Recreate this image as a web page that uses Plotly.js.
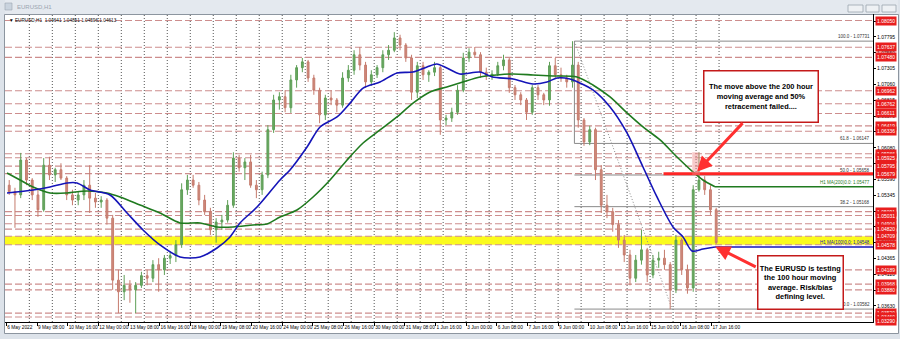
<!DOCTYPE html>
<html><head><meta charset="utf-8">
<script src="https://cdn.plot.ly/plotly-3.0.1.min.js"></script>
<style>html,body{margin:0;padding:0;background:#fff;}#chart{width:900px;height:339px;}</style>
</head><body><div id="chart"></div>
<script>
// ===== DATA =====
// EURUSD H1, aggregated into 6-hour candles; hour index counts trading hours from 6 May 2022 00:00
const candleHours = 6;
const candleOpen = [
1.0550,1.0540,1.0535,1.0589,1.0558,1.0535,1.0512,1.0581,1.0566,1.0574,
1.0561,1.0535,1.0527,1.0535,1.0550,1.0530,1.0524,1.0527,1.0499,1.0403,
1.0385,1.0395,1.0388,1.0395,1.0410,1.0406,1.0427,1.0419,1.0437,1.0441,
1.0458,1.0543,1.0558,1.0550,1.0527,1.0509,1.0481,1.0493,1.0496,1.0519,
1.0592,1.0577,1.0586,1.0550,1.0543,1.0566,1.0636,1.0682,1.0687,1.0670,
1.0713,1.0732,1.0741,1.0716,1.0697,1.0659,1.0685,1.0682,1.0674,1.0716,
1.0728,1.0752,1.0736,1.0710,1.0721,1.0732,1.0752,1.0759,1.0778,1.0767,
1.0747,1.0694,1.0735,1.0721,1.0725,1.0732,1.0651,1.0654,1.0663,1.0697,
1.0747,1.0756,1.0752,1.0725,1.0719,1.0722,1.0735,1.0744,1.0701,1.0690,
1.0682,1.0663,1.0701,1.0690,1.0682,1.0735,1.0721,1.0716,1.0710,1.0736,
1.0651,1.0617,1.0636,1.0574,1.0519,1.0509,1.0489,1.0465,1.0442,1.0406,
1.0434,1.0450,1.0411,1.0434,1.0437,1.0427,1.0388,1.0465,1.0419,1.0391,
1.0543,1.0558,1.0543,1.0512];
const candleHigh = [
1.0558,1.0546,1.0600,1.0592,1.0561,1.0543,1.0592,1.0594,1.0577,1.0584,
1.0564,1.0543,1.0540,1.0558,1.0581,1.0538,1.0533,1.0530,1.0504,1.0419,
1.0411,1.0403,1.0400,1.0416,1.0419,1.0434,1.0437,1.0442,1.0447,1.0465,
1.0553,1.0566,1.0566,1.0555,1.0535,1.0515,1.0499,1.0504,1.0527,1.0601,
1.0597,1.0592,1.0597,1.0558,1.0571,1.0643,1.0690,1.0694,1.0697,1.0721,
1.0736,1.0747,1.0744,1.0721,1.0701,1.0690,1.0697,1.0685,1.0725,1.0736,
1.0759,1.0764,1.0741,1.0728,1.0736,1.0759,1.0767,1.0787,1.0783,1.0770,
1.0752,1.0741,1.0741,1.0728,1.0741,1.0735,1.0659,1.0670,1.0705,1.0755,
1.0762,1.0764,1.0756,1.0732,1.0728,1.0741,1.0752,1.0747,1.0705,1.0694,
1.0685,1.0705,1.0705,1.0693,1.0741,1.0747,1.0732,1.0721,1.0773,1.0741,
1.0654,1.0642,1.0639,1.0581,1.0535,1.0515,1.0496,1.0473,1.0450,1.0442,
1.0481,1.0453,1.0442,1.0447,1.0450,1.0431,1.0473,1.0468,1.0427,1.0550,
1.0601,1.0564,1.0550,1.0515];
const candleLow = [
1.0535,1.0484,1.0530,1.0550,1.0527,1.0501,1.0509,1.0558,1.0555,1.0558,
1.0527,1.0519,1.0519,1.0527,1.0507,1.0515,1.0515,1.0489,1.0388,1.0352,
1.0372,1.0368,1.0352,1.0391,1.0395,1.0400,1.0385,1.0411,1.0428,1.0431,
1.0453,1.0535,1.0546,1.0519,1.0504,1.0473,1.0461,1.0481,1.0492,1.0515,
1.0571,1.0558,1.0546,1.0530,1.0535,1.0561,1.0631,1.0667,1.0663,1.0662,
1.0701,1.0725,1.0710,1.0690,1.0646,1.0651,1.0674,1.0663,1.0670,1.0710,
1.0721,1.0728,1.0701,1.0704,1.0716,1.0725,1.0744,1.0756,1.0759,1.0741,
1.0682,1.0685,1.0713,1.0710,1.0719,1.0628,1.0643,1.0648,1.0659,1.0694,
1.0741,1.0747,1.0716,1.0713,1.0713,1.0719,1.0728,1.0693,1.0682,1.0674,
1.0651,1.0659,1.0682,1.0674,1.0673,1.0716,1.0710,1.0701,1.0701,1.0639,
1.0611,1.0612,1.0558,1.0507,1.0499,1.0478,1.0453,1.0431,1.0395,1.0400,
1.0427,1.0400,1.0406,1.0422,1.0419,1.0358,1.0383,1.0411,1.0382,1.0385,
1.0540,1.0535,1.0504,1.0459];
const candleClose = [
1.0540,1.0535,1.0589,1.0558,1.0535,1.0512,1.0581,1.0566,1.0574,1.0561,
1.0535,1.0527,1.0535,1.0550,1.0530,1.0524,1.0527,1.0499,1.0403,1.0385,
1.0395,1.0388,1.0395,1.0410,1.0406,1.0427,1.0419,1.0437,1.0441,1.0458,
1.0543,1.0558,1.0550,1.0527,1.0509,1.0481,1.0493,1.0496,1.0519,1.0592,
1.0577,1.0586,1.0550,1.0543,1.0566,1.0636,1.0682,1.0687,1.0670,1.0713,
1.0732,1.0741,1.0716,1.0697,1.0659,1.0685,1.0682,1.0674,1.0716,1.0728,
1.0752,1.0736,1.0710,1.0721,1.0732,1.0752,1.0759,1.0778,1.0767,1.0747,
1.0694,1.0735,1.0721,1.0725,1.0732,1.0651,1.0654,1.0663,1.0697,1.0747,
1.0756,1.0752,1.0725,1.0719,1.0722,1.0735,1.0744,1.0701,1.0690,1.0682,
1.0663,1.0701,1.0690,1.0682,1.0735,1.0721,1.0716,1.0710,1.0736,1.0651,
1.0617,1.0636,1.0574,1.0519,1.0509,1.0489,1.0465,1.0442,1.0406,1.0434,
1.0450,1.0411,1.0434,1.0437,1.0427,1.0388,1.0465,1.0419,1.0391,1.0543,
1.0558,1.0543,1.0512,1.0461];

// 100-hour moving average (blue) and 200-hour moving average (green)
const ma100Hours = [0.7,27.9,45.6,63.4,73.8,87.4,108.2,126.0,142.7,160.4,181.3,202.2,219.9,233.5,243.9,261.7,285.7,296.1,313.9,327.5,345.2,358.8,372.4,390.1,407.8,424.5,439.1,449.4,459.8,473.4,494.5,507.4,528.9,549.8,564.4,574.8,588.4,598.7,612.3,630.2,647.9,664.6,679.2,695.9,706.4,715.8,727.2,739.7];
const ma100Values = [1.05380,1.05426,1.05473,1.05535,1.05535,1.05426,1.05349,1.05070,1.04807,1.04575,1.04389,1.04389,1.04528,1.04699,1.04916,1.05163,1.05581,1.05736,1.06092,1.06402,1.06557,1.06771,1.07004,1.07098,1.07238,1.07253,1.07331,1.07377,1.07315,1.07222,1.07253,1.07176,1.07145,1.07067,1.07098,1.07160,1.07145,1.07083,1.06975,1.06711,1.06309,1.05782,1.05318,1.04854,1.04699,1.04482,1.04513,1.04544];
const ma200Hours = [0.7,14.3,27.9,45.6,63.4,84.2,105.1,118.7,139.6,160.4,181.3,202.2,219.9,236.7,257.5,272.1,285.7,303.4,320.2,337.9,355.7,372.4,390.1,407.8,424.5,442.3,459.8,476.5,494.5,512.2,528.9,549.8,570.6,595.7,612.3,630.2,647.9,664.6,682.4,700.1,716.8,727.2,739.7];
const ma200Values = [1.05690,1.05581,1.05473,1.05380,1.05380,1.05411,1.05380,1.05318,1.05194,1.05070,1.04916,1.04916,1.04854,1.04854,1.04885,1.04900,1.05008,1.05117,1.05318,1.05581,1.05891,1.06154,1.06355,1.06557,1.06771,1.06944,1.07021,1.07098,1.07176,1.07207,1.07222,1.07207,1.07191,1.07176,1.07052,1.06866,1.06619,1.06402,1.06201,1.05937,1.05705,1.05581,1.05477];
const ma100Label = 'H1 MA(100)0.0: 1.04548';
const ma200Label = 'H1 MA(200)0.0: 1.05477';

// time axis
const timeTickHours = [0,32,64,96,128,160,192,224,256,288,320,352,384,416,448,480,512,544,576,608,640,672,704,736];
const timeTickLabels = ['6 May 2022','9 May 08:00','10 May 16:00','12 May 00:00','13 May 08:00','16 May 16:00','18 May 00:00','19 May 08:00','20 May 16:00','24 May 00:00','25 May 08:00','26 May 16:00','30 May 00:00','31 May 08:00','1 Jun 16:00','3 Jun 00:00','6 Jun 08:00','7 Jun 16:00','9 Jun 00:00','10 Jun 08:00','13 Jun 16:00','15 Jun 00:00','16 Jun 08:00','17 Jun 16:00'];
const tradingDays = 31; // 6 May .. 17 Jun (period separators at each day start)

// price axis
const priceTicks = [1.03630,1.03875,1.04120,1.04365,1.04610,1.04855,1.05100,1.05345,1.05590,1.05835,1.06080,1.06325,1.06570,1.06815,1.07060,1.07305,1.07550,1.07795,1.08040];

// horizontal support/resistance levels (red dashed, red labels)
const levelPrices = [1.08050,1.07637,1.07480,1.06962,1.06762,1.06611,1.06419,1.06336,1.05986,1.05925,1.05795,1.05679,1.05091,1.05031,1.04904,1.04820,1.04709,1.04578,1.04189,1.03968,1.03880,1.03520,1.03460,1.03290];
const supportZone = [1.04578, 1.04709];
const retestLevel = 1.05679;
const retestStartHour = 686;

// Fibonacci retracement (9 Jun high -> 15 Jun low)
const fibRatios = ['100.0','61.8','50.0','38.2','0.0'];
const fibPrices = [1.07731,1.06147,1.05658,1.05168,1.03582];
const fibHighHour = 593;
const fibLowHour = 695;

// failed break area
const failHours = [716, 724];
const failPrices = [1.0566, 1.0601];
const arrow1Target = [721, 1.0571];
const arrow2Target = [740, 1.0455];

const headerText = '\u25BC EURUSD,H1  1.04641 1.04861 1.04596 1.04613';
const note1 = '<b>The move above the 200 hour<br>moving average and 50%<br>retracement failed....</b>';
const note2 = '<b>The EURUSD is testing<br>the 100 hour moving<br>average. Risk/bias<br>defining level.</b>';

// ===== LAYOUT =====
const W = 900, H = 339, M = {l:5, r:27, t:14, b:17};
const pw = W - M.l - M.r, ph = H - M.t - M.b;
const px = v => (v - M.l) / pw;
const py = v => (H - M.b - v) / ph;
const XR = [-1.4, 904.7], YR = [1.03382, 1.08151];
const FONT = 'Liberation Sans, Arial, DejaVu Sans, sans-serif';

const candleX = candleOpen.map((_, i) => i * candleHours + candleHours / 2);

const traces = [
  {type:'candlestick', x:candleX, open:candleOpen, high:candleHigh, low:candleLow, close:candleClose,
   increasing:{line:{color:'#5e9f57', width:1}, fillcolor:'#6aa862'},
   decreasing:{line:{color:'#c57b6d', width:1}, fillcolor:'#cf8a7c'},
   whiskerwidth:0, hoverinfo:'skip', showlegend:false},
  {type:'scatter', mode:'lines', x:ma200Hours, y:ma200Values, line:{color:'#1f7a1f', width:1.6, shape:'spline', smoothing:0.8}, hoverinfo:'skip'},
  {type:'scatter', mode:'lines', x:ma100Hours, y:ma100Values, line:{color:'#1414b8', width:1.6, shape:'spline', smoothing:0.8}, hoverinfo:'skip'}
];

const shapes = [];
// window chrome
shapes.push({type:'rect', xref:'paper', yref:'paper', x0:px(0), x1:px(900), y0:py(14), y1:py(0), fillcolor:'#e4e9ef', line:{width:0}, layer:'below'});
shapes.push({type:'rect', xref:'paper', yref:'paper', x0:px(0), x1:px(5), y0:py(339), y1:py(0), fillcolor:'#dde3ea', line:{width:0}, layer:'below'});
shapes.push({type:'rect', xref:'paper', yref:'paper', x0:px(0), x1:px(900), y0:py(339), y1:py(334), fillcolor:'#dde3ea', line:{width:0}, layer:'below'});
shapes.push({type:'rect', xref:'paper', yref:'paper', x0:px(898), x1:px(900), y0:py(339), y1:py(0), fillcolor:'#dde3ea', line:{width:0}, layer:'below'});
shapes.push({type:'rect', xref:'paper', yref:'paper', x0:px(4.5), x1:px(898.5), y0:py(333.5), y1:py(14.5), line:{color:'#8c959f', width:1}, layer:'below'});
[[848,863],[866,879],[882,896]].forEach(b => shapes.push({type:'rect', xref:'paper', yref:'paper', x0:px(b[0]), x1:px(b[1]), y0:py(12), y1:py(5), fillcolor:'#eef1f4', line:{color:'#9aa4ae', width:0.8}, layer:'below'}));
shapes.push({type:'rect', xref:'paper', yref:'paper', x0:px(5), x1:px(12), y0:py(10), y1:py(3), fillcolor:'#c9d3de', line:{color:'#9aa4ae', width:0.6}, layer:'below'});

// period separators
for (let d = 1; d <= tradingDays; d++) {
  shapes.push({type:'line', xref:'x', yref:'paper', x0:d*24, x1:d*24, y0:0, y1:1, line:{color:'#555', width:1, dash:'1px,2px'}, layer:'below'});
}
// support zone
shapes.push({type:'rect', xref:'paper', yref:'y', x0:0, x1:1, y0:supportZone[0], y1:supportZone[1], fillcolor:'#fbfb1e', line:{width:0}, layer:'below'});
// levels
levelPrices.forEach(p => shapes.push({type:'line', xref:'paper', yref:'y', x0:0, x1:1, y0:p, y1:p, line:{color:'#cd8d8d', width:1.1, dash:'7px,3px'}, layer:'below'}));
// fib
fibPrices.forEach(p => shapes.push({type:'line', xref:'x', yref:'y', x0:fibHighHour, x1:XR[1], y0:p, y1:p, line:{color:'#8a8a8a', width:1}, layer:'below'}));
shapes.push({type:'line', xref:'x', yref:'y', x0:fibHighHour, x1:fibHighHour, y0:fibPrices[0], y1:fibPrices[1], line:{color:'#8a8a8a', width:1}, layer:'below'});
shapes.push({type:'line', xref:'x', yref:'y', x0:fibHighHour, x1:fibLowHour, y0:fibPrices[0], y1:fibPrices[4], line:{color:'#8a8a8a', width:1, dash:'1px,2px'}, layer:'below'});
// MA extensions
shapes.push({type:'line', xref:'x', yref:'y', x0:ma200Hours[ma200Hours.length-1], x1:XR[1], y0:ma200Values[ma200Values.length-1], y1:ma200Values[ma200Values.length-1], line:{color:'#1f7a1f', width:1.6}});
shapes.push({type:'line', xref:'x', yref:'y', x0:ma100Hours[ma100Hours.length-1], x1:XR[1], y0:ma100Values[ma100Values.length-1], y1:ma100Values[ma100Values.length-1], line:{color:'#1414b8', width:1.6}});
// retest line and failure highlight
shapes.push({type:'line', xref:'x', yref:'y', x0:retestStartHour, x1:XR[1], y0:retestLevel, y1:retestLevel, line:{color:'#ff2626', width:3}});
shapes.push({type:'rect', xref:'x', yref:'y', x0:failHours[0], x1:failHours[1], y0:failPrices[0], y1:failPrices[1], fillcolor:'rgba(240,140,140,0.45)', line:{width:0}});

const annotations = [];
annotations.push({xref:'paper', yref:'paper', x:px(15), y:py(7), xanchor:'left', yanchor:'middle', text:'EURUSD,H1', showarrow:false, font:{family:FONT, size:6, color:'#9ba5af'}});
annotations.push({xref:'paper', yref:'paper', x:px(7), y:py(21), xanchor:'left', yanchor:'middle', text:headerText, showarrow:false, font:{family:FONT, size:4.7, color:'#111'}});
// red price labels
levelPrices.forEach(p => annotations.push({xref:'paper', yref:'y', x:1, y:Math.max(p, YR[0] + 0.0001), xanchor:'left', yanchor:'middle', xshift:2, text:p.toFixed(5), showarrow:false, font:{family:FONT, size:5, color:'#fff'}, bgcolor:'#e81e1e', borderpad:1}));
// fib labels
fibPrices.forEach((p, i) => annotations.push({xref:'paper', yref:'y', x:1, y:p, xanchor:'right', yanchor:'bottom', xshift:-1, text:fibRatios[i] + ' - ' + p.toFixed(5), showarrow:false, font:{family:FONT, size:4.5, color:'#333'}}));
annotations.push({xref:'paper', yref:'y', x:1, y:ma200Values[ma200Values.length-1], xanchor:'right', yanchor:'bottom', xshift:-1, text:ma200Label, showarrow:false, font:{family:FONT, size:4.5, color:'#1f7a1f'}});
annotations.push({xref:'paper', yref:'y', x:1, y:ma100Values[ma100Values.length-1], xanchor:'right', yanchor:'bottom', xshift:-1, text:ma100Label, showarrow:false, font:{family:FONT, size:4.5, color:'#1414b8'}});
// callouts
annotations.push({xref:'paper', yref:'paper', x:px(760.5), y:py(96), xanchor:'center', yanchor:'middle', text:note1, showarrow:false, width:111, height:48, align:'center', bgcolor:'#fff', bordercolor:'#c41a1a', borderwidth:1.5, borderpad:1, font:{family:FONT, size:7.4, color:'#000'}});
annotations.push({xref:'paper', yref:'paper', x:px(800), y:py(282.5), xanchor:'center', yanchor:'middle', text:note2, showarrow:false, width:82, height:50, align:'center', bgcolor:'#fff', bordercolor:'#c41a1a', borderwidth:1.5, borderpad:1, font:{family:FONT, size:7.4, color:'#000'}});
annotations.push({xref:'x', yref:'y', x:arrow1Target[0], y:arrow1Target[1], ax:47, ay:-50, text:'', showarrow:true, arrowhead:2, arrowsize:1, arrowwidth:3, arrowcolor:'#ff3030'});
annotations.push({xref:'x', yref:'y', x:arrow2Target[0], y:arrow2Target[1], ax:42, ay:21, text:'', showarrow:true, arrowhead:2, arrowsize:1, arrowwidth:3, arrowcolor:'#ff3030'});

const layout = {
  width:W, height:H, margin:{l:M.l, r:M.r, t:M.t, b:M.b, pad:0},
  paper_bgcolor:'#ffffff', plot_bgcolor:'#ffffff', showlegend:false, boxgap:0.55,
  font:{family:FONT, size:5, color:'#000'},
  xaxis:{range:XR, tickmode:'array', tickvals:timeTickHours, ticktext:timeTickLabels, ticks:'outside', ticklen:3, tickcolor:'#000',
         tickangle:0, ticklabelposition:'outside right', tickfont:{family:FONT, size:4.8, color:'#000'}, showgrid:false, zeroline:false,
         showline:true, linecolor:'#000', linewidth:1, rangeslider:{visible:false}, fixedrange:true, automargin:false},
  yaxis:{range:YR, side:'right', tickmode:'array', tickvals:priceTicks, ticktext:priceTicks.map(v => v.toFixed(5)), ticks:'outside', ticklen:2,
         tickcolor:'#000', tickfont:{family:FONT, size:5, color:'#000'}, showgrid:false, zeroline:false, showline:true, linecolor:'#000', linewidth:1, fixedrange:true, automargin:false},
  shapes:shapes, annotations:annotations
};

Plotly.newPlot('chart', traces, layout, {displayModeBar:false, staticPlot:true});
</script></body></html>
